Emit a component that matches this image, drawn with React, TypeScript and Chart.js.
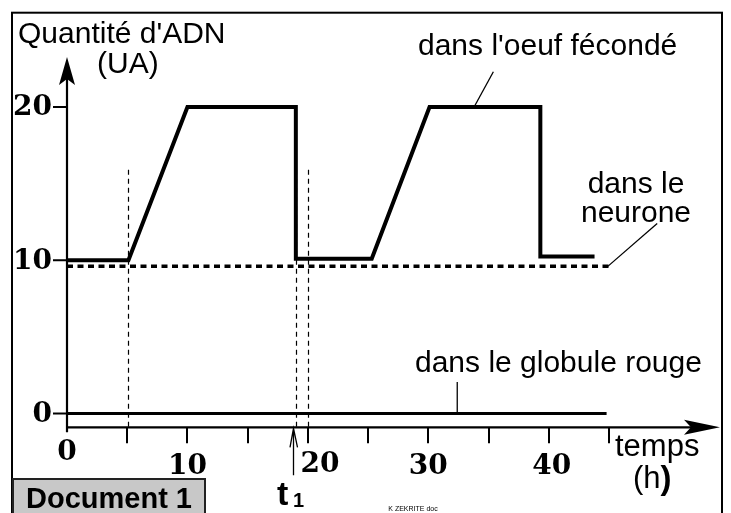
import React, { useEffect, useRef } from "react";
import { Chart, registerables } from "chart.js";

Chart.register(...registerables);

// ---- data ----
const eggTimes = [0, 5.1, 10, 19, 19, 25.3, 30.1, 39.3, 39.3, 43.8];
const eggDNA = [10, 10, 20, 20, 10.1, 10.1, 20, 20, 10.25, 10.25];
const neuronTimes = [0, 45];
const neuronDNA = [9.6, 9.6];
const redCellTimes = [0, 44.8];
const redCellDNA = [0, 0];

const yTickValues = [0, 10, 20];
const xTickValues = [0, 5, 10, 15, 20, 25, 30, 35, 40, 45];
const xLabelValues = [0, 10, 20, 30, 40];
const guideTimes = [5.1, 19, 20];
const guideTop = 15.9;
const t1Time = 18.8;

const SANS = '"Liberation Sans", Arial, sans-serif';
const SERIF = '"DejaVu Serif", serif';

const decor = {
  id: "decor",
  beforeDatasetsDraw(chart: any) {
    const ctx = chart.ctx as CanvasRenderingContext2D;
    const xs = chart.scales.x;
    const ys = chart.scales.y;
    const px = (v: number) => xs.getPixelForValue(v);
    const py = (v: number) => ys.getPixelForValue(v);
    const W = chart.width;
    const H = chart.height;
    const x0 = px(0);
    const axisY = chart.chartArea.bottom;
    ctx.save();
    ctx.strokeStyle = "#000";
    ctx.fillStyle = "#000";

    // frame
    ctx.lineWidth = 2;
    ctx.strokeRect(4, 4.7, W - 5, H + 20);

    // dashed guides
    ctx.save();
    ctx.lineWidth = 1.2;
    ctx.setLineDash([5, 4]);
    guideTimes.forEach((t) => {
      const gx = Math.round(px(t)) + 0.5;
      ctx.beginPath();
      ctx.moveTo(gx, py(guideTop));
      ctx.lineTo(gx, axisY);
      ctx.stroke();
    });
    ctx.restore();

    // y axis
    ctx.lineWidth = 2.2;
    ctx.beginPath();
    ctx.moveTo(x0, axisY + 5);
    ctx.lineTo(x0, 62);
    ctx.stroke();
    // y arrow head (notched)
    ctx.beginPath();
    ctx.moveTo(x0, 49);
    ctx.lineTo(x0 + 8, 77);
    ctx.lineTo(x0, 71);
    ctx.lineTo(x0 - 8, 77);
    ctx.closePath();
    ctx.fill();

    // x axis
    const xEnd = 712;
    ctx.beginPath();
    ctx.moveTo(x0, axisY);
    ctx.lineTo(xEnd - 20, axisY);
    ctx.stroke();
    ctx.beginPath();
    ctx.moveTo(xEnd, axisY);
    ctx.lineTo(xEnd - 36, axisY - 7.5);
    ctx.lineTo(xEnd - 29, axisY);
    ctx.lineTo(xEnd - 36, axisY + 7.5);
    ctx.closePath();
    ctx.fill();

    // y ticks & labels
    ctx.lineWidth = 2;
    ctx.font = `bold 28px ${SERIF}`;
    ctx.textAlign = "right";
    ctx.textBaseline = "middle";
    yTickValues.forEach((v) => {
      const y = py(v);
      ctx.beginPath();
      ctx.moveTo(x0 - 14, y);
      ctx.lineTo(x0, y);
      ctx.stroke();
      ctx.fillText(String(v), x0 - 15, y + 1);
    });

    // x ticks
    xTickValues.forEach((v) => {
      if (v === 0) return;
      const x = Math.round(px(v));
      ctx.beginPath();
      ctx.moveTo(x, axisY);
      ctx.lineTo(x, axisY + 16);
      ctx.stroke();
    });
    // x labels
    ctx.textAlign = "center";
    xLabelValues.forEach((v) => {
      let dx = 0;
      let y = axisY + 39;
      if (v === 0) y = axisY + 25;
      if (v === 20) { dx = 12; y = axisY + 37; }
      if (v === 40) dx = 3;
      ctx.fillText(String(v), px(v) + dx, y);
    });

    // t1 arrow
    const tx = Math.round(px(t1Time)) + 0.5;
    ctx.lineWidth = 1.3;
    ctx.beginPath();
    ctx.moveTo(tx, axisY + 48);
    ctx.lineTo(tx, axisY + 1);
    ctx.moveTo(tx - 3.5, axisY + 20);
    ctx.lineTo(tx, axisY + 1);
    ctx.lineTo(tx + 4, axisY + 20);
    ctx.stroke();

    ctx.restore();
  },
  afterDatasetsDraw(chart: any) {
    const ctx = chart.ctx as CanvasRenderingContext2D;
    const xs = chart.scales.x;
    const ys = chart.scales.y;
    const px = (v: number) => xs.getPixelForValue(v);
    const py = (v: number) => ys.getPixelForValue(v);
    ctx.save();
    ctx.fillStyle = "#000";
    ctx.strokeStyle = "#000";
    ctx.textBaseline = "alphabetic";

    // leader lines
    ctx.lineWidth = 1.3;
    const leader = (a: number, b: number, c: number, d: number) => {
      ctx.beginPath();
      ctx.moveTo(px(a), py(b));
      ctx.lineTo(px(c), py(d));
      ctx.stroke();
    };
    leader(33.8, 20, 35.4, 22.3);
    leader(44.9, 9.6, 49, 12.4);
    leader(32.4, 0, 32.4, 2.05);

    // texts
    ctx.font = `30px ${SANS}`;
    ctx.textAlign = "left";
    ctx.fillText("Quantité d'ADN", 10, 35);
    ctx.fillText("(UA)", 89, 65);
    ctx.fillText("dans l'oeuf fécondé", 410, 47);
    ctx.fillText("dans le globule rouge", 407, 364);
    ctx.textAlign = "center";
    ctx.fillText("dans le", 628, 185);
    ctx.fillText("neurone", 628, 214);
    ctx.textAlign = "left";
    ctx.font = `31px ${SANS}`;
    ctx.fillText("temps", 607, 448);
    ctx.fillText("(h", 625, 480);
    const hw = ctx.measureText("(h").width;
    ctx.font = `bold 33px ${SANS}`;
    ctx.fillText(")", 625 + hw, 481);

    // t1 label
    ctx.font = `bold 34px ${SANS}`;
    ctx.fillText("t", 269, 497);
    ctx.font = `bold 20px ${SANS}`;
    ctx.fillText("1", 285, 499);

    // Document 1 box
    ctx.fillStyle = "#c8c8c8";
    ctx.fillRect(5, 471, 192, 60);
    ctx.strokeStyle = "#222";
    ctx.lineWidth = 2;
    ctx.strokeRect(5, 471, 192, 60);
    ctx.fillStyle = "#000";
    ctx.font = `bold 29px ${SANS}`;
    ctx.fillText("Document 1", 18, 500);

    // credit
    ctx.font = `7px ${SANS}`;
    ctx.textAlign = "center";
    ctx.fillText("K ZEKRITE doc", 405, 503);

    ctx.restore();
  },
};

export default function App() {
  const ref = useRef<HTMLCanvasElement | null>(null);
  useEffect(() => {
    if (!ref.current) return;
    const mk = (ts: number[], vs: number[]) => ts.map((t, i) => ({ x: t, y: vs[i] }));
    const chart = new Chart(ref.current, {
      type: "line",
      data: {
        datasets: [
          {
            data: mk(eggTimes, eggDNA),
            borderColor: "#000",
            borderWidth: 4,
            pointRadius: 0,
            tension: 0,
            borderJoinStyle: "miter",
            borderCapStyle: "butt",
          },
          {
            data: mk(neuronTimes, neuronDNA),
            borderColor: "#000",
            borderWidth: 3.5,
            borderDash: [6, 4.5],
            pointRadius: 0,
            tension: 0,
          },
          {
            data: mk(redCellTimes, redCellDNA),
            borderColor: "#000",
            borderWidth: 3,
            pointRadius: 0,
            tension: 0,
          },
        ],
      } as any,
      options: {
        responsive: false,
        animation: false,
        events: [],
        layout: { padding: { left: 59, right: 114, top: 53, bottom: 85.7 } },
        scales: {
          x: { type: "linear", min: 0, max: 45, display: false },
          y: { type: "linear", min: -0.9, max: 23, display: false },
        },
        plugins: { legend: { display: false }, tooltip: { enabled: false }, title: { display: false } },
      } as any,
      plugins: [decor],
    });
    return () => chart.destroy();
  }, []);
  return (
    <div style={{ width: 715, height: 505 }}>
      <canvas ref={ref} width={715} height={505} style={{ display: "block", width: 715, height: 505 }} />
    </div>
  );
}
